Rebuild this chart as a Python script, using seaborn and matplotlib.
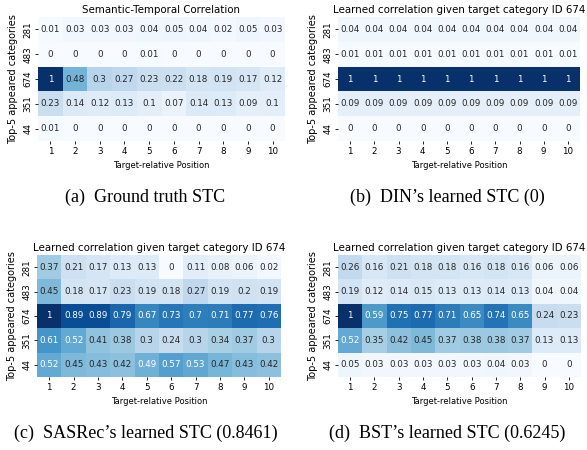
import numpy as np
import pandas as pd
import seaborn as sns
import matplotlib.pyplot as plt

categories = ["281", "483", "674", "351", "44"]
positions = [str(i) for i in range(1, 11)]

ground_truth = [
    [0.01, 0.03, 0.03, 0.03, 0.04, 0.05, 0.04, 0.02, 0.05, 0.03],
    [0.00, 0.00, 0.00, 0.00, 0.01, 0.00, 0.00, 0.00, 0.00, 0.00],
    [1.00, 0.48, 0.30, 0.27, 0.23, 0.22, 0.18, 0.19, 0.17, 0.12],
    [0.23, 0.14, 0.12, 0.13, 0.10, 0.07, 0.14, 0.13, 0.09, 0.10],
    [0.01, 0.00, 0.00, 0.00, 0.00, 0.00, 0.00, 0.00, 0.00, 0.00],
]
din = [
    [0.04] * 10,
    [0.01] * 10,
    [1.00] * 10,
    [0.09] * 10,
    [0.00] * 10,
]
sasrec = [
    [0.37, 0.21, 0.17, 0.13, 0.13, 0.00, 0.11, 0.08, 0.06, 0.02],
    [0.45, 0.18, 0.17, 0.23, 0.19, 0.18, 0.27, 0.19, 0.20, 0.19],
    [1.00, 0.89, 0.89, 0.79, 0.67, 0.73, 0.70, 0.71, 0.77, 0.76],
    [0.61, 0.52, 0.41, 0.38, 0.30, 0.24, 0.30, 0.34, 0.37, 0.30],
    [0.52, 0.45, 0.43, 0.42, 0.49, 0.57, 0.53, 0.47, 0.43, 0.42],
]
bst = [
    [0.26, 0.16, 0.21, 0.18, 0.18, 0.16, 0.18, 0.16, 0.06, 0.06],
    [0.19, 0.12, 0.14, 0.15, 0.13, 0.13, 0.14, 0.13, 0.04, 0.04],
    [1.00, 0.59, 0.75, 0.77, 0.71, 0.65, 0.74, 0.65, 0.24, 0.23],
    [0.52, 0.35, 0.42, 0.45, 0.37, 0.38, 0.38, 0.37, 0.13, 0.13],
    [0.05, 0.03, 0.03, 0.03, 0.03, 0.03, 0.04, 0.03, 0.00, 0.00],
]

titles = ["Semantic-Temporal Correlation",
          "Learned correlation given target category ID 674",
          "Learned correlation given target category ID 674",
          "Learned correlation given target category ID 674"]
captions = ["(a)  Ground truth STC", "(b)  DIN\u2019s learned STC (0)",
            "(c)  SASRec\u2019s learned STC (0.8461)", "(d)  BST\u2019s learned STC (0.6245)"]

W, H = 587, 450
fig = plt.figure(figsize=(W / 100, H / 100), dpi=100)

# axes boxes in pixels: left, top, right, bottom
boxes = [(38, 17, 285, 141), (338, 17, 580, 141),
         (37, 255, 281, 377), (338, 255, 581, 377)]
cap_xy = [(145, 197), (447, 197), (146, 433), (447, 433)]

for data, title, cap, (l, t, r, b), (cx, cy) in zip(
        [ground_truth, din, sasrec, bst], titles, captions, boxes, cap_xy):
    ax = fig.add_axes([l / W, 1 - b / H, (r - l) / W, (b - t) / H])
    df = pd.DataFrame(data, index=categories, columns=positions)
    sns.heatmap(df, ax=ax, cmap="Blues", vmin=0, vmax=1, cbar=False,
                annot=True, fmt=".2g", annot_kws={"fontsize": 6.3})
    ax.set_title(title, fontsize=7.4, pad=3)
    ax.set_xlabel("Target-relative Position", fontsize=6)
    ax.set_ylabel("Top-5 appeared categories", fontsize=7)
    ax.tick_params(axis="both", labelsize=6.3, length=2, width=0.6, pad=2)
    ax.set_yticklabels(categories, rotation=90, va="center")
    ax.set_xticklabels(positions, rotation=0)
    fig.text(cx / W, 1 - cy / H, cap, ha="center", va="center",
             fontsize=13, family="Liberation Serif")

fig.savefig("out.png", dpi=100)
